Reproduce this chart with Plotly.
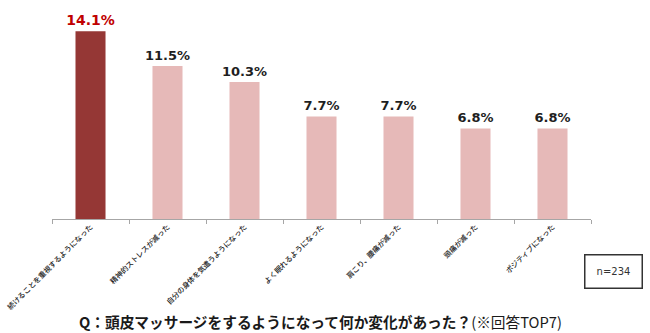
import plotly.graph_objects as go

# Survey responses (top 7), percent of respondents
categories = [
    "続けることを重視するようになった",
    "精神的ストレスが減った",
    "自分の身体を気遣うようになった",
    "よく眠れるようになった",
    "肩こり、腰痛が減った",
    "頭痛が減った",
    "ポジティブになった",
]
values = [14.1, 11.5, 10.3, 7.7, 7.7, 6.8, 6.8]
value_labels = [f"{v:.1f}%" for v in values]
sample_note = "n=234"

bar_colors = ["#953735"] + ["#E6B9B8"] * (len(values) - 1)
label_colors = ["#C00000"] + ["#1F1F1F"] * (len(values) - 1)
label_sizes = [14] + [13] * (len(values) - 1)

fig = go.Figure(
    go.Bar(
        x=categories,
        y=values,
        marker=dict(color=bar_colors, line=dict(width=0)),
        text=value_labels,
        textposition="outside",
        constraintext="none",
        textfont=dict(family="DejaVu Sans", color=label_colors, size=label_sizes, weight="bold"),
        cliponaxis=False,
        hoverinfo="skip",
    )
)

fig.update_layout(
    width=650,
    height=333,
    margin=dict(l=52, r=59, t=6, b=114),
    paper_bgcolor="white",
    plot_bgcolor="white",
    bargap=0.61,
    showlegend=False,
    xaxis=dict(
        type="category",
        automargin=False,
        tickangle=-45,
        tickson="boundaries",
        ticks="outside",
        ticklen=4,
        tickcolor="#A6A6A6",
        showline=True,
        linecolor="#A6A6A6",
        linewidth=1,
        tickfont=dict(family="Noto Sans CJK JP", size=7.3, color="#1A1A1A", weight=500),
        showgrid=False,
    ),
    yaxis=dict(range=[0, 16], visible=False, showgrid=False, automargin=False),
    annotations=[
        dict(
            text=sample_note,
            xref="paper", yref="paper",
            x=(613 - 52) / 539, y=(219 - 271.5) / 213,
            xanchor="center", yanchor="middle",
            showarrow=False,
            font=dict(family="DejaVu Sans", size=10, color="#333333"),
            bordercolor="#333333", borderwidth=1.5,
            width=54, height=30,
            bgcolor="white",
        ),
        dict(
            text="<b>Q：頭皮マッサージをするようになって何か変化があった？</b>(※回答TOP7)",
            xref="paper", yref="paper",
            x=(320 - 52) / 539, y=(219 - 321) / 213,
            xanchor="center", yanchor="middle",
            showarrow=False,
            font=dict(family="Noto Sans CJK JP", size=14.7, color="#1A1A1A"),
        ),
    ],
)

fig.write_html("out.html")
